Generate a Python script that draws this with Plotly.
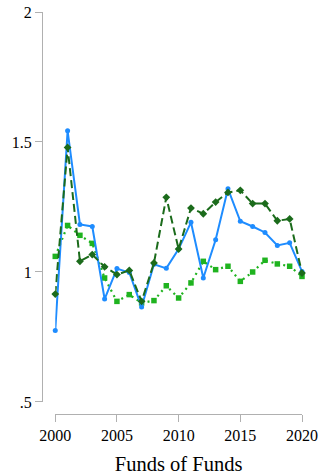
import plotly.graph_objects as go

years = list(range(2000, 2021))

# Index values per year for the three series
blue_vals = [0.775, 1.543, 1.183, 1.175, 0.896, 1.013, 0.998, 0.865, 1.03, 1.014,
             1.088, 1.191, 0.977, 1.124, 1.320, 1.195, 1.175, 1.152, 1.102, 1.112, 1.002]
dark_vals = [0.915, 1.479, 1.041, 1.067, 1.02, 0.99, 1.006, 0.887, 1.035, 1.287,
             1.088, 1.246, 1.224, 1.269, 1.306, 1.314, 1.263, 1.263, 1.197, 1.204, 0.996]
light_vals = [1.06, 1.179, 1.141, 1.11, 0.977, 0.887, 0.913, 0.881, 0.89, 0.947,
              0.90, 0.958, 1.041, 1.009, 1.022, 0.964, 1.0, 1.045, 1.031, 1.022, 0.983]

y_ticks = [0.5, 1, 1.5, 2]
y_labels = [".5", "1", "1.5", "2"]
x_ticks = [2000, 2005, 2010, 2015, 2020]

BLUE = "#1e8cff"
DARK = "#1b6b1b"
LIGHT = "#1fb31f"
AXIS = "#b0b0b0"
FONT = "Times New Roman, Liberation Serif, Times, serif"

fig = go.Figure()
fig.add_trace(go.Scatter(
    x=years, y=light_vals, mode="lines+markers", cliponaxis=False,
    line=dict(color=LIGHT, width=2.2, dash="2px,4px"),
    marker=dict(symbol="square", size=5.5, color=LIGHT)))
fig.add_trace(go.Scatter(
    x=years, y=blue_vals, mode="lines+markers", cliponaxis=False,
    line=dict(color=BLUE, width=2),
    marker=dict(symbol="circle", size=5, color=BLUE)))
fig.add_trace(go.Scatter(
    x=years, y=dark_vals, mode="lines+markers", cliponaxis=False,
    line=dict(color=DARK, width=2, dash="8px,4px"),
    marker=dict(symbol="diamond", size=6, color=DARK)))

fig.update_layout(
    width=321, height=476,
    margin=dict(l=42, r=19, t=12, b=62),
    paper_bgcolor="white", plot_bgcolor="white",
    showlegend=False,
    font=dict(family=FONT, color="black", size=16),
    xaxis=dict(
        domain=[0.051, 1], range=[2000, 2020], anchor="free", position=0,
        automargin=False,
        tickvals=x_ticks, ticks="outside", ticklen=7, tickcolor=AXIS, tickwidth=1.3,
        showline=True, linecolor=AXIS, linewidth=1.3, showgrid=False, zeroline=False,
        tickfont=dict(size=16, family=FONT, color="black"),
        title=dict(text="Funds of Funds", font=dict(size=20.5, family=FONT, color="black"),
                   standoff=13),
    ),
    yaxis=dict(
        domain=[0.0299, 1], range=[0.5, 2], anchor="free", position=0,
        automargin=False,
        tickvals=y_ticks, ticktext=y_labels, ticks="outside", ticklen=7,
        tickcolor=AXIS, tickwidth=1.3,
        showline=True, linecolor=AXIS, linewidth=1.3, showgrid=False, zeroline=False,
        tickfont=dict(size=16, family=FONT, color="black"),
    ),
)

fig.write_html("out.html")
